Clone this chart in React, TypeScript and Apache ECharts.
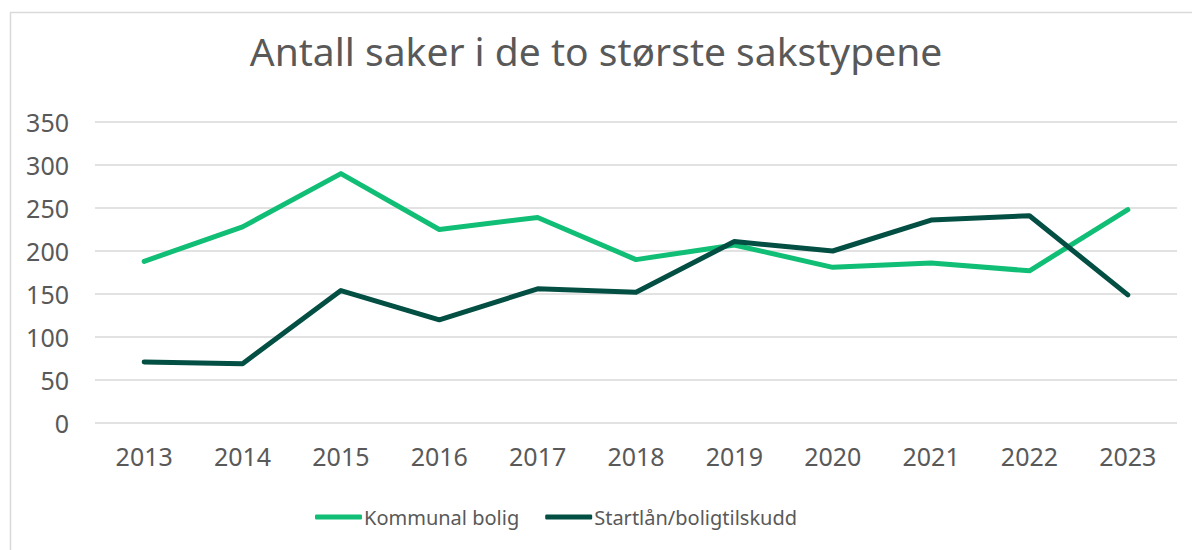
import React, { useEffect, useRef } from "react";
import * as echarts from "echarts";

const years = ["2013", "2014", "2015", "2016", "2017", "2018", "2019", "2020", "2021", "2022", "2023"];
const kommunalBolig = [188, 228, 290, 225, 239, 190, 207, 181, 186, 177, 248];
const startlan = [71, 69, 154, 120, 156, 152, 211, 200, 236, 241, 149];
const seriesNames = ["Kommunal bolig", "Startlån/boligtilskudd"];
const title = "Antall saker i de to største sakstypene";

const FONT = "'Noto Sans', 'Open Sans', sans-serif";
const TEXT = "#595959";

export default function App() {
  const ref = useRef<HTMLDivElement>(null);
  useEffect(() => {
    if (!ref.current) return;
    const chart = echarts.init(ref.current, undefined, { renderer: "svg" });
    chart.setOption({
      animation: false,
      backgroundColor: "#ffffff",
      textStyle: { fontFamily: FONT, color: TEXT },
      title: {
        text: title,
        left: "center",
        top: 26,
        textStyle: { fontFamily: FONT, fontSize: 39, fontWeight: "normal", color: TEXT },
      },
      graphic: [
        {
          type: "rect",
          shape: { x: 10.5, y: 12.5, width: 1300, height: 700 },
          style: { fill: "none", stroke: "#d9d9d9", lineWidth: 1.5 },
          silent: true,
          z: -1,
        },
      ],
      grid: { left: 95, right: 15, top: 122, bottom: 127 },
      xAxis: {
        type: "category",
        data: years,
        boundaryGap: true,
        axisLine: { show: false },
        axisTick: { show: false },
        axisLabel: { fontFamily: FONT, fontSize: 25, color: TEXT, margin: 20 },
      },
      yAxis: {
        type: "value",
        min: 0,
        max: 350,
        interval: 50,
        axisLine: { show: false },
        axisTick: { show: false },
        splitLine: { lineStyle: { color: "#d9d9d9", width: 1.5 } },
        axisLabel: { fontFamily: FONT, fontSize: 25, color: TEXT, margin: 26 },
      },
      legend: {
        bottom: 18,
        left: 310,
        icon: "roundRect",
        itemWidth: 47,
        itemHeight: 5,
        itemGap: 26,
        textStyle: { fontFamily: FONT, fontSize: 20, color: TEXT, padding: [0, 0, 0, -3] },
        data: seriesNames,
      },
      series: [
        {
          name: seriesNames[0],
          type: "line",
          data: kommunalBolig,
          symbol: "none",
          lineStyle: { color: "#10be75", width: 5, cap: "round", join: "round" },
          itemStyle: { color: "#10be75" },
        },
        {
          name: seriesNames[1],
          type: "line",
          data: startlan,
          symbol: "none",
          lineStyle: { color: "#034f43", width: 5, cap: "round", join: "round" },
          itemStyle: { color: "#034f43" },
        },
      ],
    });
    return () => chart.dispose();
  }, []);
  return (
    <div
      ref={ref}
      style={{ position: "absolute", left: 0, top: 0, width: 1192, height: 550 }}
    />
  );
}
